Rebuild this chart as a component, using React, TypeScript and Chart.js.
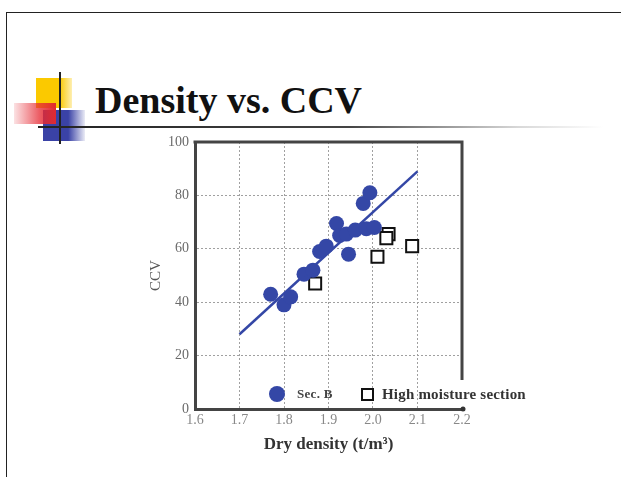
import React, { useEffect, useRef } from 'react';
import { Chart, registerables } from 'chart.js';

Chart.register(...registerables);

// ---- data ----
const secBDensity = [1.77, 1.8, 1.815, 1.845, 1.865, 1.88, 1.895, 1.918, 1.925, 1.94, 1.945, 1.96, 1.978, 1.985, 1.993, 2.003];
const secBCCV = [43, 39, 42, 50.5, 52, 59, 61, 69.5, 65, 65.5, 58, 67, 77, 67.5, 81, 68];
const highDensity = [1.87, 2.01, 2.035, 2.03, 2.088];
const highCCV = [47, 57, 65.5, 64, 61];
const fitDensity = [1.7, 2.1];
const fitCCV = [28, 89];
const xRange = [1.6, 2.2];
const yRange = [0, 100];
const xStep = 0.1;
const yStep = 20;
const rightFrameEnd = 10.9;

const titleText = 'Density vs. CCV';
const xTitle = 'Dry density (t/m³)';
const yTitle = 'CCV';
const legendLabels = ['Sec. B', 'High moisture section'];

const BLUE = '#3447a6';
const SERIF = "'Liberation Serif', 'Times New Roman', serif";

const toPts = (xs: number[], ys: number[]) => xs.map((x, i) => ({ x, y: ys[i] }));

const framePlugin = {
  id: 'frame',
  beforeDatasetsDraw(chart: any) {
    const { ctx, scales } = chart;
    const x = scales.x;
    const y = scales.y;
    const l = x.getPixelForValue(xRange[0]);
    const r = x.getPixelForValue(xRange[1]);
    const t = y.getPixelForValue(yRange[1]);
    const b = y.getPixelForValue(rightFrameEnd);
    ctx.save();
    ctx.strokeStyle = '#444';
    ctx.lineWidth = 3;
    ctx.beginPath();
    ctx.moveTo(l - 1.5, t);
    ctx.lineTo(r, t);
    ctx.lineTo(r, b);
    ctx.stroke();
    ctx.fillStyle = '#333';
    ctx.beginPath();
    ctx.arc(r + 1, y.getPixelForValue(yRange[0]), 2.5, 0, Math.PI * 2);
    ctx.fill();
    ctx.restore();
  },
};

export default function App() {
  const canvasRef = useRef<HTMLCanvasElement | null>(null);

  useEffect(() => {
    if (!canvasRef.current) return;
    const chart = new Chart(canvasRef.current, {
      type: 'scatter',
      data: {
        datasets: [
          {
            type: 'line',
            label: 'fit',
            data: toPts(fitDensity, fitCCV),
            borderColor: BLUE,
            borderWidth: 2.5,
            pointRadius: 0,
            fill: false,
          } as any,
          {
            label: legendLabels[0],
            data: toPts(secBDensity, secBCCV),
            pointRadius: 7.5,
            pointBackgroundColor: BLUE,
            pointBorderWidth: 0,
            backgroundColor: BLUE,
            borderColor: BLUE,
          },
          {
            label: legendLabels[1],
            data: toPts(highDensity, highCCV),
            pointStyle: 'rect',
            pointRadius: 8.5,
            pointBackgroundColor: '#ffffff',
            pointBorderColor: '#111',
            pointBorderWidth: 2,
          },
        ],
      },
      options: {
        animation: false,
        responsive: false,
        events: [],
        layout: { padding: { left: 147, right: 159, top: 142, bottom: 22 } },
        plugins: { legend: { display: false }, tooltip: { enabled: false } },
        scales: {
          x: {
            type: 'linear',
            min: xRange[0],
            max: xRange[1],
            afterFit: (s: any) => {
              s.height = 46;
            },
            ticks: {
              stepSize: xStep,
              padding: 3,
              color: '#888',
              font: { family: SERIF, size: 14 },
              callback: (v: any) => Number(v).toFixed(1),
            },
            grid: {
              drawTicks: false,
              lineWidth: 1,
              color: (c: any) =>
                c.tick && (c.tick.value <= xRange[0] + 1e-9 || c.tick.value >= xRange[1] - 1e-9)
                  ? 'rgba(0,0,0,0)'
                  : '#a0a0a0',
            },
            border: { display: true, color: '#444', width: 3, dash: [2, 2] },
            title: {
              display: true,
              text: xTitle,
              color: '#333',
              font: { family: SERIF, size: 17, weight: 'bold' },
              padding: { top: 0, bottom: 0 },
            },
          },
          y: {
            type: 'linear',
            min: yRange[0],
            max: yRange[1],
            afterFit: (s: any) => {
              s.width = 48;
            },
            ticks: {
              stepSize: yStep,
              padding: 6,
              color: '#6a6a6a',
              font: { family: SERIF, size: 14 },
            },
            grid: {
              drawTicks: false,
              lineWidth: 1,
              color: (c: any) =>
                c.tick && (c.tick.value <= yRange[0] || c.tick.value >= yRange[1])
                  ? 'rgba(0,0,0,0)'
                  : '#a0a0a0',
            },
            border: { display: true, color: '#444', width: 3, dash: [2, 2] },
            title: {
              display: true,
              text: yTitle,
              color: '#555',
              font: { family: SERIF, size: 15 },
              padding: { top: 0, bottom: 0 },
            },
          },
        },
      },
      plugins: [framePlugin],
    });
    return () => chart.destroy();
  }, []);

  return (
    <div
      style={{
        position: 'fixed',
        left: 0,
        top: 0,
        width: 621,
        height: 477,
        overflow: 'hidden',
        background: '#fff',
        fontFamily: SERIF,
      }}
    >
      {/* slide frame */}
      <div
        style={{
          position: 'absolute',
          left: 6,
          top: 12,
          right: -10,
          bottom: -10,
          borderLeft: '1.5px solid #222',
          borderTop: '1.5px solid #222',
        }}
      />
      {/* logo */}
      <div
        style={{
          position: 'absolute',
          left: 36,
          top: 78,
          width: 36,
          height: 30,
          background: 'linear-gradient(to right, #fbc900 0%, #fbc900 65%, rgba(251,201,0,0.3) 100%)',
        }}
      />
      <div
        style={{
          position: 'absolute',
          left: 43,
          top: 110,
          width: 42,
          height: 31,
          background: 'linear-gradient(to right, #3a42a6 0%, #3a42a6 60%, rgba(58,66,166,0.1) 100%)',
        }}
      />
      <div
        style={{
          position: 'absolute',
          left: 14,
          top: 103,
          width: 42,
          height: 21,
          background: 'linear-gradient(to right, rgba(230,60,70,0.15) 0%, rgba(230,40,50,0.75) 60%, #e02a30 100%)',
        }}
      />
      <div style={{ position: 'absolute', left: 59, top: 72, width: 2, height: 72, background: '#222' }} />
      <div
        style={{
          position: 'absolute',
          left: 38,
          top: 126,
          width: 565,
          height: 2,
          background: 'linear-gradient(to right, #222 0%, #444 55%, rgba(190,190,190,0.6) 85%, rgba(255,255,255,0) 100%)',
        }}
      />
      {/* title */}
      <div
        style={{
          position: 'absolute',
          left: 95,
          top: 81,
          fontSize: 38,
          lineHeight: '38px',
          fontWeight: 'bold',
          color: '#111',
          whiteSpace: 'nowrap',
        }}
      >
        {titleText}
      </div>
      <canvas
        ref={canvasRef}
        width={621}
        height={477}
        style={{ position: 'absolute', left: 0, top: 0, width: 621, height: 477 }}
      />
      {/* legend */}
      <div
        style={{
          position: 'absolute',
          left: 269,
          top: 386,
          width: 16,
          height: 16,
          borderRadius: '50%',
          background: BLUE,
        }}
      />
      <div
        style={{
          position: 'absolute',
          left: 297,
          top: 387,
          fontSize: 13,
          lineHeight: '13px',
          fontWeight: 'bold',
          color: '#444',
          whiteSpace: 'nowrap',
          letterSpacing: 0.3,
        }}
      >
        {legendLabels[0]}
      </div>
      <div
        style={{
          position: 'absolute',
          left: 361,
          top: 388,
          width: 13,
          height: 13,
          boxSizing: 'border-box',
          border: '2px solid #111',
          background: '#fff',
        }}
      />
      <div
        style={{
          position: 'absolute',
          left: 382,
          top: 387,
          fontSize: 15,
          lineHeight: '15px',
          fontWeight: 'bold',
          color: '#333',
          whiteSpace: 'nowrap',
          letterSpacing: 0.2,
        }}
      >
        {legendLabels[1]}
      </div>
    </div>
  );
}
